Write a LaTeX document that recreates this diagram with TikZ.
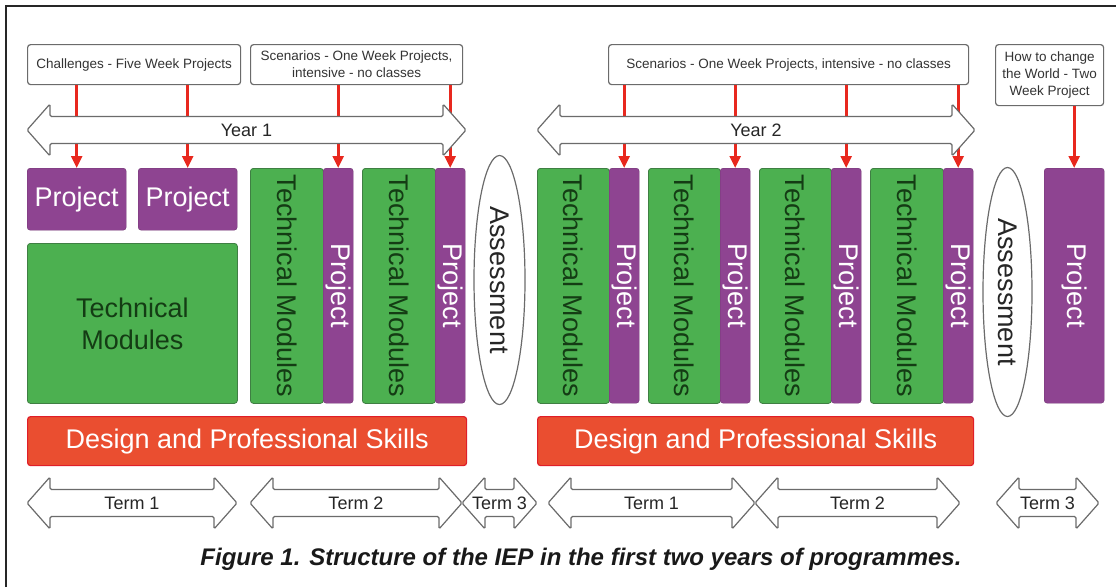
\documentclass[tikz,border=0pt]{standalone}
\usepackage{fontspec}
\setmainfont{Liberation Sans}
\usetikzlibrary{arrows.meta,shapes.geometric}

\definecolor{projpurple}{HTML}{8E4491}
\definecolor{tmgreen}{HTML}{4CB050}
\definecolor{tmedge}{HTML}{3F7F43}
\definecolor{tmink}{HTML}{143C14}
\definecolor{dpsfill}{HTML}{EA4E30}
\definecolor{dpsedge}{HTML}{E01E28}
\definecolor{linkred}{HTML}{E8281E}
\definecolor{outline}{HTML}{6B6B6B}

% double headed outline arrow: name, left x, right x, centre y, label
\newcommand{\twoway}[5]{%
  \draw[dblarrow] (#2,#4) -- ++(23,-26) -- ++(0,12.5) -- (#3-23,#4-13.5)
    -- ++(0,-12.5) -- (#3,#4) -- ++(-23,26) -- ++(0,-12.5) -- (#2+23,#4+13.5)
    -- ++(0,12.5) -- cycle;
  \node[arrowtext] (#1) at ({(#2+#3)/2},#4) {#5};
}

\begin{document}
\begin{tikzpicture}[x=1pt, y=-1pt,
    note/.style = {draw=outline, fill=white, line width=1.2pt, rounded corners=3pt,
      align=center, inner sep=0pt, anchor=north west,
      font=\fontsize{13.5}{17}\selectfont, text=black!80},
    proj/.style = {draw=projpurple!80!black, fill=projpurple, rounded corners=3pt,
      inner sep=0pt, anchor=north west, text=white, font=\fontsize{27}{30}\selectfont},
    tm/.style = {draw=tmedge, fill=tmgreen, rounded corners=3pt, line width=0.8pt,
      inner sep=0pt, anchor=north west, align=center, text=tmink,
      font=\fontsize{27}{32}\selectfont},
    strip/.style = {font=\fontsize{27}{30}\selectfont, inner sep=0pt},
    assess/.style = {draw=outline, fill=white, ellipse, line width=1.2pt, inner sep=0pt},
    dps/.style = {draw=dpsedge, fill=dpsfill, rounded corners=3pt, line width=1.2pt,
      inner sep=0pt, anchor=north west, text=white, font=\fontsize{27}{30}\selectfont},
    dblarrow/.style = {draw=outline, fill=white, line width=1.2pt, rounded corners=1.5pt},
    arrowtext/.style = {font=\fontsize{18}{20}\selectfont, text=black!85, inner sep=0pt},
    conn/.style = {draw=linkred, line width=2.6pt, -{Triangle[width=11pt,length=12pt]}},
    frame/.style = {draw=black!85, line width=1.5pt}]

\useasboundingbox (0,0) rectangle (1116,587);
\draw[frame] (6,587) -- (6,6) -- (1116,6);

% top notes
\node[note, minimum width=213pt, minimum height=40pt] (chal) at (27,44) {Challenges - Five Week Projects};
\node[note, minimum width=212pt, minimum height=40pt] (scenA) at (250,44) {Scenarios - One Week Projects,\\intensive - no classes};
\node[note, minimum width=360pt, minimum height=40pt] (scenB) at (608,44) {Scenarios - One Week Projects, intensive - no classes};
\node[note, minimum width=108pt, minimum height=61pt] (world) at (995,44) {How to change\\the World - Two\\Week Project};

% blocks, year 1
\node[proj, minimum width=99pt, minimum height=62pt] (p1) at (27,168) {Project};
\node[proj, minimum width=99pt, minimum height=62pt] (p2) at (138,168) {Project};
\node[tm, minimum width=210pt, minimum height=160pt] (tmbig) at (27,243) {Technical\\Modules};
\node[tm, minimum width=73pt, minimum height=235pt] (tmA) at (250,168) {};
\node[proj, minimum width=30pt, minimum height=235pt] (pA) at (323,168) {};
\node[tm, minimum width=73pt, minimum height=235pt] (tmB) at (362,168) {};
\node[proj, minimum width=30pt, minimum height=235pt] (pB) at (435,168) {};
\node[assess, minimum width=51pt, minimum height=249pt] (asA) at (499.5,280) {};

% blocks, year 2
\node[tm, minimum width=72pt, minimum height=235pt] (tmC) at (537,168) {};
\node[proj, minimum width=30pt, minimum height=235pt] (pC) at (609,168) {};
\node[tm, minimum width=72pt, minimum height=235pt] (tmD) at (648,168) {};
\node[proj, minimum width=30pt, minimum height=235pt] (pD) at (720,168) {};
\node[tm, minimum width=72pt, minimum height=235pt] (tmE) at (759,168) {};
\node[proj, minimum width=30pt, minimum height=235pt] (pE) at (831,168) {};
\node[tm, minimum width=73pt, minimum height=235pt] (tmF) at (870,168) {};
\node[proj, minimum width=30pt, minimum height=235pt] (pF) at (943,168) {};
\node[assess, minimum width=49pt, minimum height=249pt] (asB) at (1007.5,292) {};
\node[proj, minimum width=60pt, minimum height=235pt] (pG) at (1044,168) {};

% rotated texts
\node[strip, rotate=-90, text=tmink] (tmAt) at (tmA.center) {Technical Modules};
\node[strip, rotate=-90, text=white] (pAt) at (pA.center) {Project};
\node[strip, rotate=-90, text=tmink] (tmBt) at (tmB.center) {Technical Modules};
\node[strip, rotate=-90, text=white] (pBt) at (pB.center) {Project};
\node[strip, rotate=-90, text=black!85] (asAt) at (asA.center) {Assessment};
\node[strip, rotate=-90, text=tmink] (tmCt) at (tmC.center) {Technical Modules};
\node[strip, rotate=-90, text=white] (pCt) at (pC.center) {Project};
\node[strip, rotate=-90, text=tmink] (tmDt) at (tmD.center) {Technical Modules};
\node[strip, rotate=-90, text=white] (pDt) at (pD.center) {Project};
\node[strip, rotate=-90, text=tmink] (tmEt) at (tmE.center) {Technical Modules};
\node[strip, rotate=-90, text=white] (pEt) at (pE.center) {Project};
\node[strip, rotate=-90, text=tmink] (tmFt) at (tmF.center) {Technical Modules};
\node[strip, rotate=-90, text=white] (pFt) at (pF.center) {Project};
\node[strip, rotate=-90, text=black!85] (asBt) at (asB.center) {Assessment};
\node[strip, rotate=-90, text=white] (pGt) at (pG.center) {Project};

% red links (year arrows drawn over them)
\draw[conn] (chal.south -| p1.north) -- (p1.north);
\draw[conn] (chal.south -| p2.north) -- (p2.north);
\draw[conn] (scenA.south -| pA.north) -- (pA.north);
\draw[conn] (scenA.south -| pB.north) -- (pB.north);
\draw[conn] (scenB.south -| pC.north) -- (pC.north);
\draw[conn] (scenB.south -| pD.north) -- (pD.north);
\draw[conn] (scenB.south -| pE.north) -- (pE.north);
\draw[conn] (scenB.south -| pF.north) -- (pF.north);
\draw[conn] (world.south -| pG.north) -- (pG.north);

% years
\twoway{yearA}{27}{466}{130}{Year 1}
\twoway{yearB}{537}{975}{130}{Year 2}

% design and professional skills
\node[dps, minimum width=439pt, minimum height=49pt] (dpsA) at (27,416) {Design and Professional Skills};
\node[dps, minimum width=436pt, minimum height=49pt] (dpsB) at (537,416) {Design and Professional Skills};

% terms
\twoway{termA}{27}{237}{503}{Term 1}
\twoway{termB}{250}{462}{503}{Term 2}
\twoway{termC}{462}{537}{503}{Term 3}
\twoway{termD}{548}{755}{503}{Term 1}
\twoway{termE}{755}{960}{503}{Term 2}
\twoway{termF}{996}{1099}{503}{Term 3}

\node[font=\fontsize{24}{26}\selectfont\bfseries\itshape, text=black!90] (caption) at (581,559)
  {Figure 1. Structure of the IEP in the first two years of programmes.};
\end{tikzpicture}
\end{document}
